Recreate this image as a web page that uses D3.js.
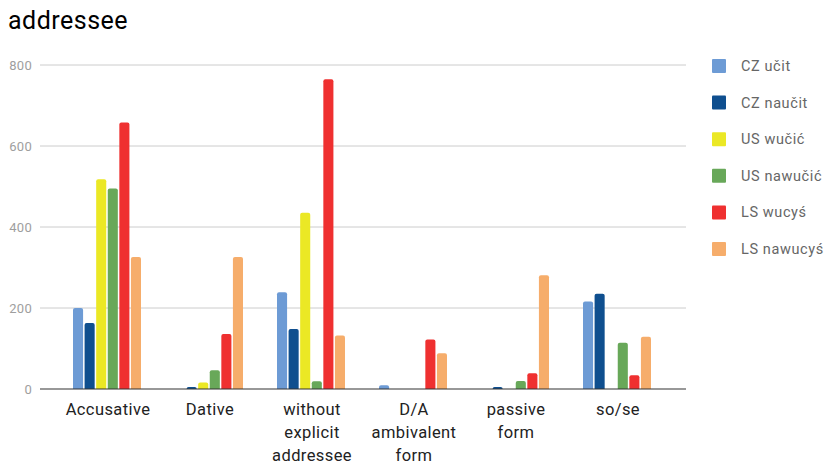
<!DOCTYPE html>
<html><head><meta charset="utf-8">
<script src="https://cdn.jsdelivr.net/npm/d3@7/dist/d3.min.js"></script>
<style>body{margin:0;background:#fff;font-family:Roboto,sans-serif}</style>
</head><body><svg id="c" width="826" height="463"></svg>
<script>
const categories = ["Accusative", "Dative", "without explicit addressee", "D/A ambivalent form", "passive form", "so/se"];
const categoryLines = [["Accusative"], ["Dative"], ["without", "explicit", "addressee"], ["D/A", "ambivalent", "form"], ["passive", "form"], ["so/se"]];
const seriesNames = ["CZ učit", "CZ naučit", "US wučić", "US nawučić", "LS wucyś", "LS nawucyś"];
const czUcit    = [200, 0, 239, 9, 0, 216];
const czNaucit  = [163, 5, 148, 0, 5, 235];
const usWucic   = [518, 16, 435, 0, 0, 0];
const usNawucic = [495, 46, 19, 0, 20, 114];
const lsWucys   = [658, 136, 765, 122, 39, 34];
const lsNawucys = [326, 326, 132, 88, 281, 129];
const yTicks = [0, 200, 400, 600, 800];
const colors = ["#6d9bd5", "#0f4f8f", "#ebe825", "#68a859", "#ef3030", "#f6ad6b"];

const series = [czUcit, czNaucit, usWucic, usNawucic, lsWucys, lsNawucys];
const svg = d3.select("#c");
const pLeft = 40, pRight = 686, pTop = 65, pBottom = 389;

const y = d3.scaleLinear().domain([0, 800]).range([pBottom, pTop]);
const x = d3.scaleBand().domain(categories).range([73, 651]).paddingInner(1 / 3).paddingOuter(0);
const xs = d3.scaleBand().domain(seriesNames).range([0, x.bandwidth()]).paddingInner(0.13);

svg.append("text").attr("x", 8).attr("y", 29).attr("font-size", 25).attr("letter-spacing", 0.5)
  .attr("fill", "#000").text("addressee");

// gridlines
svg.append("g").selectAll("line").data(yTicks.filter(d => d > 0)).join("line")
  .attr("x1", pLeft).attr("x2", pRight).attr("y1", d => y(d)).attr("y2", d => y(d))
  .attr("stroke", "#ccc").attr("stroke-width", 1);

const yAxis = d3.axisLeft(y).tickValues(yTicks).tickSize(0).tickPadding(8);
const ga = svg.append("g").attr("transform", `translate(${pLeft},0)`).call(yAxis);
ga.select(".domain").remove();
ga.selectAll("text").attr("font-family", "Roboto").attr("font-size", 13).attr("letter-spacing", 0.3).attr("fill", "#9e9e9e");

// bars
const r = 2;
function barPath(x0, w, v) {
  const yt = y(v), yb = y(0);
  if (yb - yt < 0.5) return "";
  const rr = Math.min(r, (yb - yt));
  return `M${x0},${yb}V${yt + rr}Q${x0},${yt} ${x0 + rr},${yt}H${x0 + w - rr}Q${x0 + w},${yt} ${x0 + w},${yt + rr}V${yb}Z`;
}
series.forEach((vals, si) => {
  svg.append("g").selectAll("path").data(vals).join("path")
    .attr("d", (v, i) => barPath(x(categories[i]) + xs(seriesNames[si]), xs.bandwidth(), v))
    .attr("fill", colors[si]);
});

// baseline
svg.append("line").attr("x1", pLeft).attr("x2", pRight).attr("y1", y(0)).attr("y2", y(0))
  .attr("stroke", "#333").attr("stroke-width", 1.2);

// x labels
const gx = svg.append("g");
categories.forEach((c, i) => {
  const cx = x(c) + x.bandwidth() / 2 + 1;
  const t = gx.append("text").attr("text-anchor", "middle").attr("font-size", 16.5).attr("letter-spacing", 0.4)
    .attr("fill", "#222").attr("x", cx).attr("y", 414.5);
  categoryLines[i].forEach((ln, k) => t.append("tspan").attr("x", cx).attr("dy", k === 0 ? 0 : 23).text(ln));
});

// legend
const lg = svg.append("g");
seriesNames.forEach((n, i) => {
  const cy = 66 + i * 36.6;
  lg.append("rect").attr("x", 712).attr("y", cy - 7).attr("width", 14).attr("height", 14).attr("rx", 1).attr("fill", colors[i]);
  lg.append("text").attr("x", 741).attr("y", cy + 5).attr("font-size", 14.5).attr("letter-spacing", 0.6)
    .attr("fill", "#666").text(n);
});
</script></body></html>
